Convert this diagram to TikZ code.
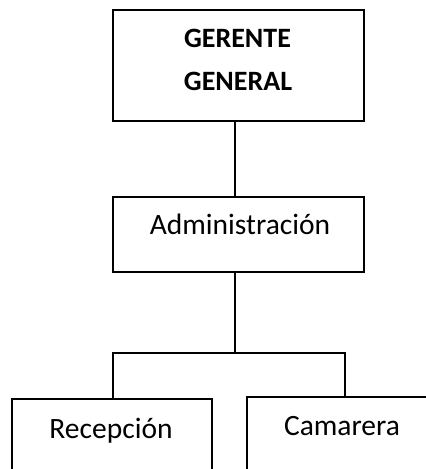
\documentclass[tikz,border=0pt]{standalone}
\usepackage{fontspec}
\setmainfont{Carlito}
\tikzset{
  box/.style={draw=black, line width=1.6pt, inner sep=0pt, outer sep=0pt, anchor=north west},
  conn/.style={draw=black, line width=1.6pt},
  txt/.style={inner sep=0pt, anchor=base, font=\fontsize{29.5}{35}\selectfont},
  btxt/.style={inner sep=0pt, anchor=base, font=\bfseries\fontsize{28}{34}\selectfont}
}
\begin{document}
\begin{tikzpicture}[x=1pt,y=-1pt]
\clip (0,0) rectangle (426,469);
\fill[white] (0,0) rectangle (426,469);
\node[box, minimum width=251pt, minimum height=111pt] (top) at (113,10) {};
\node[box, minimum width=251pt, minimum height=75pt] (adm) at (113,197) {};
\node[box, minimum width=200pt, minimum height=90pt] (rec) at (12,399) {};
\node[box, minimum width=200pt, minimum height=90pt] (cam) at (247,397) {};
\node[btxt] (t1) at (237.5,47) {GERENTE};
\node[btxt] (t2) at (238,90.5) {GENERAL};
\node[txt] (ta) at (240,234) {Administración};
\node[txt] (tr) at (111,438) {Recepción};
\node[txt] (tc) at (342,435) {Camarera};
\coordinate (jc) at (235,353);
\coordinate (jl) at (113,353);
\coordinate (jr) at (345,353);
\draw[conn] (jc |- top.south) -- (jc |- adm.north);
\draw[conn] (jc |- adm.south) -- (jc);
\draw[conn] (jl |- rec.north) -- (jl) -- (jr) -- (jr |- cam.north);
\end{tikzpicture}
\end{document}
